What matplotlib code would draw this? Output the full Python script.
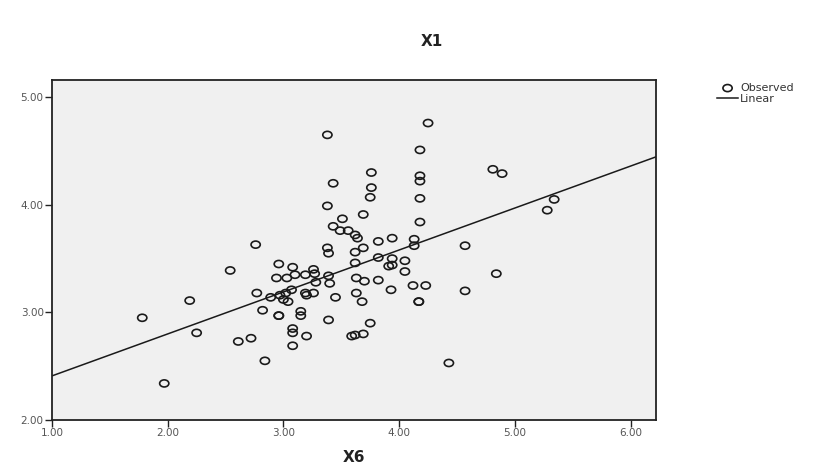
import numpy as np
import matplotlib
matplotlib.use("Agg")
import matplotlib.pyplot as plt
from matplotlib.path import Path

plt.rcParams.update({
    "font.family": ["DejaVu Sans"],
    "font.size": 7.5,
})

x6 = [3.38, 3.43, 3.38, 3.51, 3.43, 2.76, 3.38, 3.39, 3.62, 4.25,
      4.18, 3.76, 3.76, 3.75, 4.18, 4.18, 4.18, 4.18, 3.69, 4.81,
      4.89, 5.34, 5.28, 4.57, 4.13, 4.13, 3.94, 3.82, 3.69, 3.49,
      3.56, 3.62, 3.64, 3.82, 3.94, 3.91, 3.94, 4.05, 4.05, 3.62,
      3.63, 3.70, 3.82, 3.93, 4.12, 4.23, 3.63, 3.68, 4.17, 4.17,
      4.84, 4.57, 4.43, 3.75, 3.62, 3.69, 3.59, 2.54, 2.19, 1.78,
      2.25, 1.97, 2.61, 2.72, 2.84, 2.82, 2.77, 2.96, 2.94, 3.03,
      3.08, 3.10, 3.19, 3.26, 3.27, 3.28, 3.39, 3.40, 3.45, 2.89,
      2.97, 3.02, 3.07, 3.00, 3.04, 3.19, 3.26, 3.20, 2.96, 2.96,
      3.08, 3.08, 3.08, 3.15, 3.15, 3.20, 3.39]
x1 = [4.65, 4.20, 3.99, 3.87, 3.80, 3.63, 3.60, 3.55, 3.56, 4.76,
      4.51, 4.30, 4.16, 4.07, 4.27, 4.22, 4.06, 3.84, 3.91, 4.33,
      4.29, 4.05, 3.95, 3.62, 3.68, 3.62, 3.69, 3.66, 3.60, 3.76,
      3.76, 3.72, 3.69, 3.51, 3.50, 3.43, 3.44, 3.48, 3.38, 3.46,
      3.32, 3.29, 3.30, 3.21, 3.25, 3.25, 3.18, 3.10, 3.10, 3.10,
      3.36, 3.20, 2.53, 2.90, 2.79, 2.80, 2.78, 3.39, 3.11, 2.95,
      2.81, 2.34, 2.73, 2.76, 2.55, 3.02, 3.18, 3.45, 3.32, 3.32,
      3.42, 3.35, 3.35, 3.40, 3.36, 3.28, 3.34, 3.27, 3.14, 3.14,
      3.16, 3.18, 3.21, 3.12, 3.10, 3.18, 3.18, 3.16, 2.97, 2.97,
      2.85, 2.81, 2.69, 3.01, 2.97, 2.78, 2.93]

# fitted line (linear)
intercept = 2.02
slope = 0.39

xticks = [1.0, 2.0, 3.0, 4.0, 5.0, 6.0]
yticks = [2.0, 3.0, 4.0, 5.0]

# slightly flattened open circle, like the SPSS output
circ = Path.unit_circle()
ellipse = Path(circ.vertices * np.array([1.3, 1.0]), circ.codes)

fig = plt.figure(figsize=(8.29, 4.76), dpi=100)
ax = fig.add_axes([52 / 829, 56 / 476, 604 / 829, 340 / 476])
ax.set_facecolor("#f0f0f0")

ax.scatter(x6, x1, marker=ellipse, s=44, facecolors="none",
           edgecolors="#1a1a1a", linewidths=1.2, label="Observed", zorder=3)

xmin, xmax = 1.0, 6.22
xl = np.array([xmin, xmax])
ax.plot(xl, intercept + slope * xl, color="#1a1a1a", lw=1.1, label="Linear", zorder=2)

ax.set_xlim(xmin, xmax)
ax.set_ylim(2.0, 5.16)
ax.set_xticks(xticks)
ax.set_yticks(yticks)
ax.set_xticklabels([f"{t:.2f}" for t in xticks])
ax.set_yticklabels([f"{t:.2f}" for t in yticks])
ax.tick_params(direction="out", length=5, width=1, colors="#222222",
               labelcolor="#555555", labelsize=7.5, pad=1)
for side in ax.spines.values():
    side.set_linewidth(1.3)
    side.set_color("#222222")

fig.text(432 / 829, 1 - 42 / 476, "X1", ha="center", va="center",
         fontsize=11, fontweight="bold", color="#222222")
fig.text(354 / 829, 1 - 457 / 476, "X6", ha="center", va="center",
         fontsize=11, fontweight="bold", color="#222222")

fig.legend(loc="upper left", bbox_to_anchor=(717 / 829, 1 - 83 / 476),
           frameon=False, fontsize=8, handlelength=1.9, handletextpad=0.2,
           labelspacing=0.1, borderpad=0, borderaxespad=0,
           labelcolor="#333333")

fig.savefig("out.png", dpi=100)
